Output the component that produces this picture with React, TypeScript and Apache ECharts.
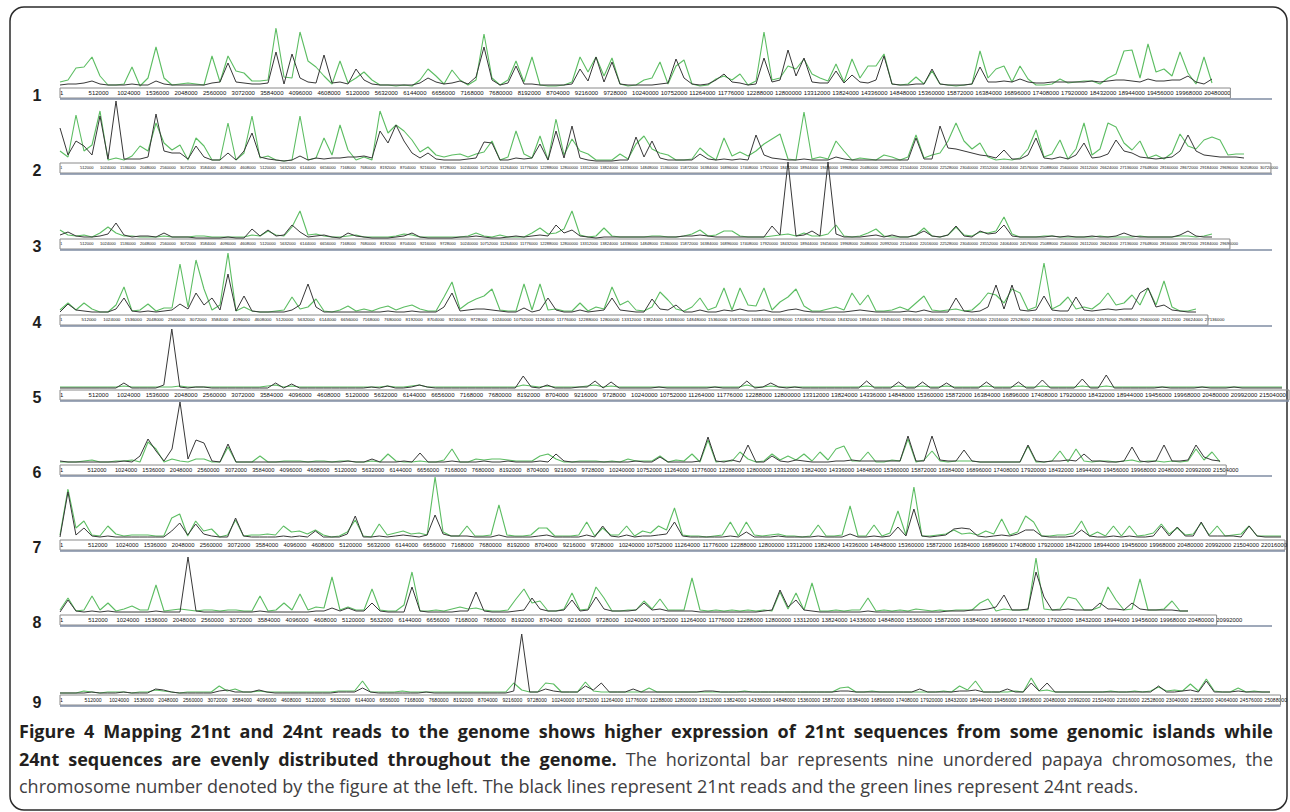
import React, { useEffect, useRef } from "react";
import * as echarts from "echarts";

// ---------- data ----------
const chromosomeNames = ["1", "2", "3", "4", "5", "6", "7", "8", "9"];
const tickStepBp = 512000;
// genomic bin size (bp) per plotted point, per chromosome
const binBp = [143200, 204800, 204800, 189630, 143200, 149200, 146286, 145250, 165830];
// end of the drawn chromosome bar (bp)
const axisEndBp = [20950000, 31000000, 29950000, 27210000, 22000000, 21750000, 22400000, 21000000, 25300000];

// 24nt reads (green) and 21nt reads (black), relative read counts per bin
const g1 = [6,8,20,21,31,12,3,3,4,21, 2,10,41,10,3,4,5,4,3,32, 6,32,17,15,7,7,8,60,11,10, 56,27,21,12,4,27,5,10,16,8, 3,3,2,3,2,8,19,12,4,18, 8,3,8,54,10,3,8,27,6,31, 3,2,2,3,6,31,16,31,12,30, 4,2,3,8,10,26,4,22,28,4, 2,3,9,12,8,14,3,7,56,8, 10,22,19,29,14,10,7,24,6,29, 10,22,22,34,4,3,4,11,4,17, 4,3,2,3,4,37,10,19,22,6, 22,9,3,3,4,9,5,6,7,7, 4,10,14,37,38,10,44,16,19,12, 36,15,4,31,5];
const b1 = [3,4,4,5,7,4,3,3,3,4, 3,3,7,4,3,3,3,3,3,5, 6,25,6,5,4,4,5,36,4,34, 10,6,5,33,5,6,4,19,8,4, 3,3,3,3,3,5,10,6,4,5, 7,4,11,41,8,3,5,22,4,4, 3,3,3,3,4,19,7,31,6,26, 4,3,3,3,3,4,5,29,10,4, 3,4,8,14,6,5,3,4,30,6, 8,38,12,30,6,5,5,17,5,13, 6,5,8,32,4,3,3,4,4,19, 4,3,3,3,4,21,6,6,7,6, 9,6,5,5,6,6,6,6,6,7, 6,7,8,8,7,6,9,7,7,8, 8,12,6,4,9];

const g2 = [12,6,48,12,18,52,3,5,3,7, 17,12,40,20,13,18,3,25,17,3, 3,40,3,10,47,5,7,3,2,3, 47,3,5,25,8,38,13,3,6,3, 52,30,38,32,23,11,16,8,6,8, 9,6,9,11,22,3,6,32,9,5, 27,3,44,8,24,12,9,3,3,3, 9,4,19,27,14,10,8,3,3,4, 15,8,3,25,7,11,7,12,19,24, 29,4,3,51,4,6,4,22,12,3, 5,4,3,8,6,3,6,28,5,8, 10,22,40,22,14,20,6,3,4,3, 5,14,33,6,9,23,4,14,40,8, 14,40,36,20,13,22,5,8,4,10, 29,17,14,23,26,23,8,9,9];
const b2 = [35,8,22,17,8,47,4,62,4,4, 4,6,49,12,10,10,4,17,6,3, 3,10,3,12,30,6,4,3,2,3, 7,3,5,4,5,5,6,6,7,5, 32,20,38,22,10,5,10,4,3,3, 3,4,5,21,20,3,3,5,4,5, 19,3,32,5,37,5,3,2,2,2, 3,3,26,6,22,5,3,3,3,3, 9,4,3,4,3,4,3,28,8,5, 4,3,3,4,3,3,3,6,4,3, 3,3,3,3,3,3,3,25,4,4, 37,15,14,12,10,8,7,5,13,4, 4,8,25,5,4,6,4,8,20,5, 6,9,23,12,10,6,5,4,5,6, 12,28,12,8,7,6,6,6,5];

const g3 = [9,4,3,4,2,6,12,6,3,3, 2,2,2,3,2,2,2,3,3,2, 2,2,2,2,4,3,8,4,3,12, 28,4,5,3,2,2,3,4,2,2, 2,2,3,5,4,2,2,2,2,2, 2,3,6,3,2,4,2,2,2,6, 11,5,6,10,28,4,2,3,11,3, 2,2,2,2,3,3,2,2,3,5, 9,3,4,8,8,3,2,2,2,3, 4,5,3,6,3,3,5,14,3,2, 3,6,10,3,2,2,2,4,11,3, 2,4,12,4,3,7,6,8,22,5, 2,2,2,3,3,2,2,2,2,2, 3,2,2,2,2,3,2,2,2,2, 3,3,2,3,5];
const b3 = [4,7,3,2,2,3,5,16,4,2, 3,3,2,6,2,2,2,1,1,1, 1,2,1,1,10,3,9,3,4,14, 7,2,3,4,2,1,6,3,2,1, 1,1,2,3,6,2,1,1,1,1, 2,2,3,2,1,1,2,3,2,3, 4,3,14,6,9,3,2,1,2,2, 2,2,2,2,2,2,2,2,3,3, 4,3,2,2,2,2,2,2,2,13, 4,77,3,4,8,3,77,5,2,2, 2,3,4,2,4,2,2,4,8,3, 2,4,13,3,2,8,5,6,14,3, 2,2,2,2,3,2,3,2,2,3, 2,2,3,6,3,2,2,2,2,2, 4,8,3,2,2];

const g4 = [5,12,5,12,6,3,3,10,28,4, 5,11,4,7,7,51,8,55,26,5, 10,62,4,8,4,3,3,4,5,18, 6,8,16,4,3,5,9,4,6,4, 7,9,5,8,10,6,4,4,18,33, 6,12,16,19,26,5,4,4,31,5, 31,5,6,4,4,12,4,8,6,28, 10,14,5,4,8,23,15,6,4,8, 17,5,8,27,5,27,10,9,27,5, 13,18,26,9,4,4,6,8,5,22, 10,20,4,4,5,8,5,12,19,5, 4,5,6,4,5,12,22,20,12,26, 22,5,8,52,6,10,18,6,8,6, 12,22,10,12,20,10,27,10,34,8, 4,4,6];
const b4 = [3,11,5,4,3,3,3,6,17,4, 3,4,3,4,5,11,6,22,10,17, 5,41,4,19,4,3,3,3,3,5, 10,31,8,3,3,3,3,3,3,3, 3,4,3,3,4,3,3,3,8,22, 4,5,6,6,5,4,3,3,7,3, 5,17,5,3,3,5,3,4,5,17, 5,4,3,3,16,6,5,10,3,3, 5,3,3,5,4,6,4,4,5,3, 3,5,6,4,3,3,3,3,3,4, 5,4,3,3,3,3,4,3,5,3, 3,3,17,4,3,4,8,30,6,30, 5,4,5,19,5,4,4,18,5,4, 5,6,5,6,6,22,27,8,10,5, 4,3,3];

const g5 = [3,3,3,3,3,3,3,3,4,3, 3,3,3,3,3,4,3,3,3,3, 3,3,3,3,3,3,4,5,3,4, 3,3,3,3,3,3,3,3,3,3, 3,4,3,3,4,5,3,3,3,3, 3,3,3,3,3,3,3,3,5,4, 3,4,3,3,3,3,4,5,3,4, 3,3,3,3,3,3,3,3,3,3, 3,3,3,3,3,3,5,3,3,4, 3,3,3,3,3,3,3,3,3,3, 3,4,3,3,3,4,3,3,4,3, 3,4,3,3,3,3,4,3,3,3, 4,3,3,4,3,3,3,3,4,3, 3,4,3,3,3,3,3,3,3,3, 3,3,3,3,3,3,3,3,3,3, 3,3,3,3];
const b5 = [2,2,2,2,2,2,2,2,7,2, 2,2,2,5,61,3,2,3,3,2, 2,2,2,2,2,2,2,7,2,6, 2,2,2,2,2,2,2,2,2,3, 2,4,2,2,3,5,3,2,2,2, 2,2,2,2,2,2,2,2,14,3, 2,5,2,2,2,3,3,9,2,8, 2,2,2,2,2,3,2,2,2,2, 2,2,3,2,2,2,9,2,3,7, 3,2,3,2,2,2,2,2,2,2, 2,9,2,2,2,8,2,2,8,2, 2,7,2,2,2,2,8,2,2,2, 8,2,2,10,2,2,2,2,11,2, 2,15,2,2,2,2,2,2,3,2, 2,2,2,3,2,2,2,3,2,2, 2,2,2,2];

const g6 = [3,3,3,4,5,3,3,4,4,5, 3,23,16,3,6,4,3,6,6,3, 3,18,3,3,3,9,3,3,4,4, 4,3,4,4,3,4,4,3,3,4, 3,11,4,3,3,4,3,3,5,16, 3,3,6,5,6,6,5,4,4,4, 9,11,6,3,3,4,4,4,3,4, 3,6,4,4,4,9,3,5,4,11, 3,25,3,4,4,13,6,3,4,11, 5,9,5,11,4,13,5,16,19,4, 4,13,3,3,5,4,26,3,5,14, 4,3,4,4,4,3,3,3,3,3, 3,19,3,3,4,14,3,16,4,3, 4,4,3,4,5,3,4,4,3,4, 3,4,16,5,13,3];
const b6 = [4,3,3,3,3,3,3,3,4,3, 9,26,14,4,16,63,6,25,22,4, 3,21,3,3,3,3,3,3,3,3, 3,3,3,3,3,3,4,3,3,6, 3,3,3,4,3,12,3,3,3,4, 3,3,3,4,3,3,4,3,3,3, 4,3,11,4,3,3,3,3,3,3, 3,3,4,3,3,8,3,3,3,3, 4,28,4,3,5,3,20,3,3,9, 4,3,5,4,3,3,3,4,4,5, 4,4,4,4,4,4,29,4,4,29, 5,4,4,15,4,3,3,3,3,3, 3,20,4,3,4,4,5,4,11,4, 4,3,3,4,18,4,3,4,20,4, 4,5,20,8,5,4];

const g7 = [5,51,12,19,5,4,14,6,4,5, 5,5,4,4,22,26,4,19,9,11, 3,5,20,4,5,5,6,5,14,8, 9,6,10,5,3,4,8,20,4,3, 16,5,7,9,6,7,5,63,8,4, 4,14,4,4,5,35,5,4,4,5, 12,12,4,4,4,5,18,4,12,5, 5,14,4,9,7,14,10,32,5,4, 4,3,4,5,18,4,18,5,4,5, 6,4,4,3,4,15,4,4,5,34, 4,4,15,4,7,29,5,53,4,4, 5,6,10,6,7,5,9,6,21,5, 8,24,18,4,4,5,5,7,19,4, 8,4,14,4,14,4,5,7,16,6, 12,5,6,17,5,14,4,5,6,14, 4,4,4,4];
const b7 = [3,48,5,12,4,3,4,3,3,3, 3,3,3,3,9,17,5,16,6,4, 3,3,22,4,3,3,3,3,4,3, 4,3,9,3,3,3,6,24,3,3, 4,3,4,5,4,3,5,25,6,4, 4,4,3,3,3,5,3,3,3,3, 4,5,3,3,3,3,5,3,14,4, 3,5,3,4,4,5,6,18,4,3, 3,3,3,3,4,3,8,3,3,3, 4,3,3,3,3,4,3,3,3,6, 3,3,4,3,4,13,4,31,4,3, 4,5,11,12,11,4,3,4,5,4, 6,10,10,4,3,3,3,4,10,4, 3,3,4,3,4,3,3,4,14,4, 13,4,4,18,4,4,4,4,3,14, 4,3,3,3];

const g8 = [5,17,4,5,19,5,12,4,6,9, 5,5,30,4,5,6,5,4,5,5, 4,5,5,4,4,19,4,5,12,5, 21,5,8,7,38,5,8,5,5,26, 5,4,4,10,43,4,4,5,4,6, 8,6,7,5,4,4,5,16,26,12, 14,4,4,6,22,5,6,28,17,4, 4,5,5,14,6,16,5,5,5,37, 5,4,5,4,5,4,5,4,5,4, 23,6,22,5,32,4,4,5,4,5, 5,17,4,5,4,5,4,6,5,4, 5,4,5,5,5,12,16,4,6,5, 5,5,57,6,5,6,18,16,5,5, 8,28,15,5,6,36,5,5,6,14, 4,4];
const b8 = [3,15,4,3,4,3,4,3,3,3, 3,3,4,3,3,3,58,4,3,3, 3,3,3,3,3,4,3,3,3,3, 3,3,4,4,7,4,7,4,4,12, 4,3,3,3,28,4,3,3,3,3, 4,4,23,4,3,3,3,4,5,17, 6,4,4,5,15,4,5,18,6,4, 4,4,5,12,5,6,4,4,4,4, 3,3,3,3,3,3,3,3,4,5, 25,8,15,5,4,3,3,3,3,3, 3,4,3,3,3,3,3,3,3,3, 3,4,4,4,5,5,6,8,20,5, 5,6,43,18,5,5,6,5,5,5, 12,6,6,5,12,6,5,5,5,5, 4,4];

const g9 = [2,2,2,4,3,2,3,3,3,2, 3,3,5,4,3,2,3,3,3,3, 9,4,6,3,3,4,3,3,3,3, 3,3,3,3,3,4,4,4,14,3, 3,3,3,4,3,3,3,3,3,3, 3,3,3,3,3,3,3,12,5,3, 3,12,11,3,3,3,13,4,3,3, 3,3,3,3,7,3,3,3,3,3, 3,3,3,3,3,3,4,3,3,3, 3,3,3,3,3,3,3,3,7,8, 3,3,4,3,3,3,3,3,3,3, 3,4,3,9,5,14,3,3,3,3, 4,3,17,4,5,3,3,3,3,3, 3,3,4,3,3,4,3,4,8,4, 5,4,11,4,16,4,3,3,7,3, 4,3,3];
const b9 = [2,2,2,2,3,2,2,2,3,2, 2,2,6,5,3,2,2,2,2,2, 4,5,3,3,3,5,3,2,2,2, 2,2,2,2,2,3,3,3,7,3, 2,2,2,2,2,2,3,2,2,2, 2,2,2,2,2,2,2,4,61,3, 3,6,4,3,3,3,9,5,12,3, 3,3,6,3,3,3,3,3,3,3, 3,4,4,3,3,3,3,3,3,3, 3,3,3,3,3,3,3,3,4,4, 3,3,3,3,3,3,3,3,6,3, 3,3,3,4,4,5,3,3,3,6, 3,3,12,4,12,3,3,3,3,3, 3,3,3,3,3,3,3,3,9,3, 3,4,5,3,14,3,3,3,4,3, 3,3,3];

const green24nt = [g1, g2, g3, g4, g5, g6, g7, g8, g9];
const black21nt = [b1, b2, b3, b4, b5, b6, b7, b8, b9];

const captionLine1 = "Figure 4 Mapping 21nt and 24nt reads to the genome shows higher expression of 21nt sequences from some genomic islands while";
const captionLine2Bold = "24nt sequences are evenly distributed throughout the genome.";
const captionLine2Rest = "The horizontal bar represents nine unordered papaya chromosomes, the";
const captionLine3 = "chromosome number denoted by the figure at the left. The black lines represent 21nt reads and the green lines represent 24nt reads.";

// ---------- layout / style ----------
const BASELINES = [88, 163, 239, 315, 390, 465, 540, 615, 695];
const LEFT = 60;
const PX_PER_BIN = 8;
const ROW_H = 60;
const GREEN = "#5cbd62";
const BLACK = "#383838";
const CAPTION_FAMILY = "'Open Sans', 'Noto Sans', sans-serif";
const CAPTION_SIZE = 18;
const CAPTION_LEFT = 19;
const CAPTION_RIGHT = 1273;
const BOLD_COLOR = "#231f20";
const REG_COLOR = "#414042";
const TICK_FAMILY = "'Liberation Sans', Arial, sans-serif";

function justifiedWords(tokens: { t: string; bold: boolean }[], y: number) {
  const canvas = document.createElement("canvas");
  const ctx = canvas.getContext("2d") as CanvasRenderingContext2D;
  const fontOf = (bold: boolean) => (bold ? "bold " : "") + CAPTION_SIZE + "px " + CAPTION_FAMILY;
  const widths = tokens.map((tk) => {
    ctx.font = fontOf(tk.bold);
    return ctx.measureText(tk.t).width;
  });
  const total = widths.reduce((a, b) => a + b, 0);
  const gap = (CAPTION_RIGHT - CAPTION_LEFT - total) / (tokens.length - 1);
  const out: any[] = [];
  let x = CAPTION_LEFT;
  tokens.forEach((tk, i) => {
    out.push({
      type: "text",
      x,
      y,
      style: {
        text: tk.t,
        fill: tk.bold ? BOLD_COLOR : REG_COLOR,
        font: fontOf(tk.bold),
        textVerticalAlign: "middle",
      },
    });
    x += widths[i] + gap;
  });
  return out;
}

export default function App() {
  const ref = useRef<HTMLDivElement>(null);
  useEffect(() => {
    if (!ref.current) return;
    const chart = echarts.init(ref.current, undefined, { renderer: "svg" });
    const grids: any[] = [];
    const xAxes: any[] = [];
    const yAxes: any[] = [];
    const series: any[] = [];
    const graphics: any[] = [];

    graphics.push({
      type: "rect",
      shape: { x: 10, y: 7, width: 1277, height: 803, r: 14 },
      style: { fill: "none", stroke: "#2b2b2b", lineWidth: 1.5 },
      z: 0,
    });

    for (let r = 0; r < 9; r++) {
      const width = (axisEndBp[r] / binBp[r]) * PX_PER_BIN;
      const pxPerTick = (tickStepBp / binBp[r]) * PX_PER_BIN;
      // keep the 8-digit labels within one tick spacing
      const tickFont = Math.min(7.5, (pxPerTick - 2) / (8 * 0.556));
      const base = BASELINES[r];
      grids.push({ left: LEFT, top: base - ROW_H, width, height: ROW_H, containLabel: false });
      xAxes.push({
        type: "value",
        gridIndex: r,
        min: 0,
        max: axisEndBp[r],
        interval: tickStepBp,
        axisLine: { show: false },
        axisTick: { show: false },
        splitLine: { show: false },
        axisLabel: {
          show: true,
          margin: 2,
          align: "left",
          fontSize: tickFont,
          fontFamily: TICK_FAMILY,
          color: "#111111",
          formatter: (v: number) => (v === 0 ? "1" : Math.abs(v % tickStepBp) < 1 ? String(Math.round(v)) : ""),
        },
      });
      yAxes.push({ type: "value", gridIndex: r, min: 0, max: ROW_H, show: false });
      const gd = green24nt[r].map((v, i) => [i * binBp[r], v]);
      const bd = black21nt[r].map((v, i) => [i * binBp[r], v]);
      series.push({
        type: "line",
        name: "24nt " + chromosomeNames[r],
        xAxisIndex: r,
        yAxisIndex: r,
        data: gd,
        showSymbol: false,
        symbol: "none",
        clip: false,
        silent: true,
        lineStyle: { color: GREEN, width: 1.1 },
        z: 3,
      });
      series.push({
        type: "line",
        name: "21nt " + chromosomeNames[r],
        xAxisIndex: r,
        yAxisIndex: r,
        data: bd,
        showSymbol: false,
        symbol: "none",
        clip: false,
        silent: true,
        lineStyle: { color: BLACK, width: 1 },
        z: 4,
      });
      // chromosome bar
      graphics.push({
        type: "rect",
        shape: { x: LEFT, y: base, width, height: 10 },
        style: { fill: "none", stroke: "#8a8a8a", lineWidth: 1 },
        z: 1,
      });
      graphics.push({
        type: "line",
        shape: { x1: LEFT, y1: base + 11, x2: Math.max(1272, LEFT + width), y2: base + 11 },
        style: { stroke: "#7f8ca3", lineWidth: 1.5 },
        z: 1,
      });
      graphics.push({
        type: "text",
        x: 37,
        y: base + 7,
        style: {
          text: chromosomeNames[r],
          fill: "#1e1e1e",
          font: "bold 16px 'Liberation Sans', Arial, sans-serif",
          textAlign: "center",
          textVerticalAlign: "middle",
        },
        z: 5,
      });
    }

    const line1Tokens = captionLine1.split(" ").map((t) => ({ t, bold: true }));
    const line2Tokens = [
      ...captionLine2Bold.split(" ").map((t) => ({ t, bold: true })),
      ...captionLine2Rest.split(" ").map((t) => ({ t, bold: false })),
    ];
    graphics.push(...justifiedWords(line1Tokens, 731));
    graphics.push(...justifiedWords(line2Tokens, 759));
    graphics.push({
      type: "text",
      x: CAPTION_LEFT,
      y: 786,
      style: {
        text: captionLine3,
        fill: REG_COLOR,
        font: CAPTION_SIZE + "px " + CAPTION_FAMILY,
        textVerticalAlign: "middle",
      },
    });

    chart.setOption({
      animation: false,
      backgroundColor: "#ffffff",
      grid: grids,
      xAxis: xAxes,
      yAxis: yAxes,
      series,
      graphic: graphics,
    });
    return () => chart.dispose();
  }, []);
  return (
    <div
      ref={ref}
      style={{ position: "fixed", left: 0, top: 0, width: 1290, height: 812, background: "#fff" }}
    />
  );
}
